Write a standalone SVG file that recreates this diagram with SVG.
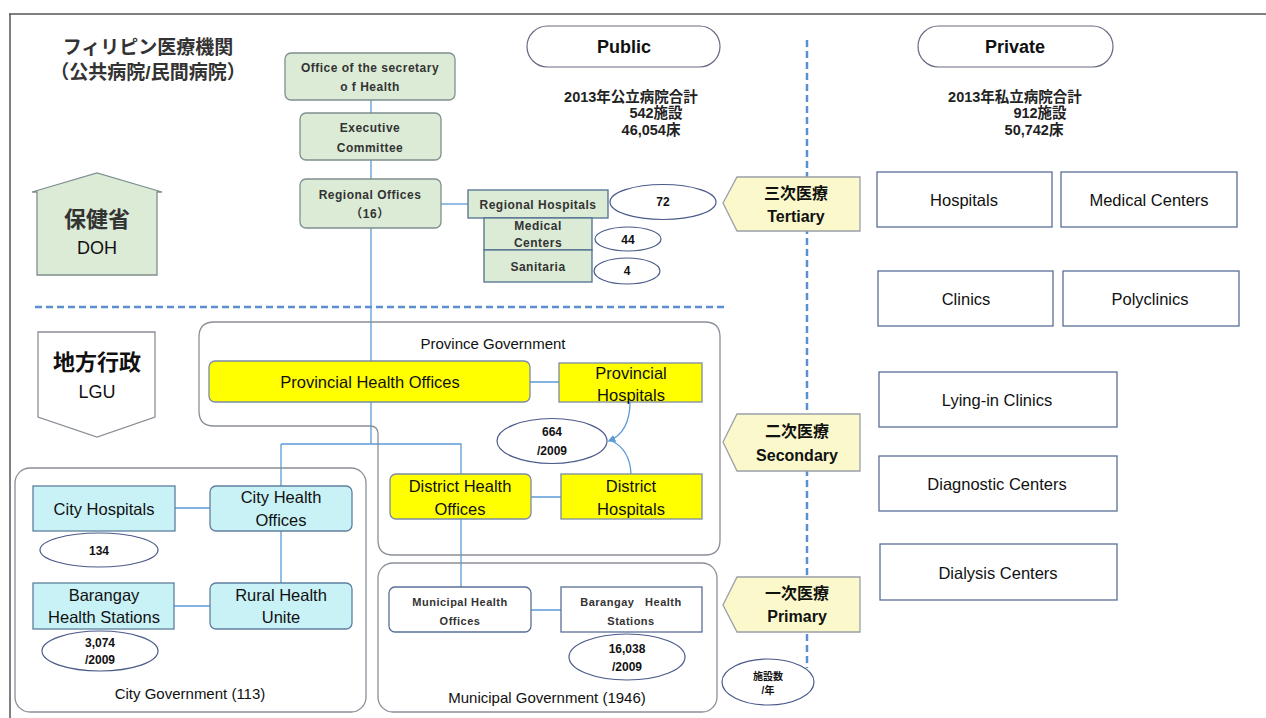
<svg xmlns="http://www.w3.org/2000/svg" width="1266" height="718" viewBox="0 0 1266 718">
<defs>
<style>
text{font-family:"Liberation Sans","Noto Sans CJK JP",sans-serif;fill:#111;text-anchor:middle;dominant-baseline:central}
.g{fill:#dcebd6;stroke:#7f8f8f;stroke-width:1.3}
.gs{fill:#dcebd6;stroke:#4f6f8f;stroke-width:1.3}
.c{fill:#c9f2f7;stroke:#5f7f9f;stroke-width:1.3}
.y{fill:#ffff00;stroke:#7a8aa8;stroke-width:1.3}
.w{fill:#fff;stroke:#5a6f98;stroke-width:1.3}
.e{fill:#fff;stroke:#4a5a8a;stroke-width:1.2}
.cont{fill:none;stroke:#8a8f98;stroke-width:1.3}
.tag{fill:#fbf9cb;stroke:#9aa0a8;stroke-width:1.3}
.ln{fill:none;stroke:#5b9bd5;stroke-width:1.3}
.dash{fill:none;stroke:#5b8fd0;stroke-width:2.5;stroke-dasharray:7,4}
.s{font-size:12px;font-weight:bold;fill:#333;letter-spacing:0.5px}
.m{font-size:16.5px}
.n{font-size:12px;font-weight:bold}
.t{font-size:16px;font-weight:bold}
.st{font-size:14.5px;font-weight:bold;fill:#222}
</style>
<marker id="ah" viewBox="0 0 10 10" refX="8" refY="5" markerWidth="6" markerHeight="6" orient="auto"><path d="M0,0 L10,5 L0,10 z" fill="#5b9bd5"/></marker>
</defs>
<rect x="0" y="0" width="1266" height="718" fill="#fff"/>
<path d="M9,14 H1266 M10,14 V718" fill="none" stroke="#555" stroke-width="1.5"/>

<g id="title">
<text x="148" y="47" style="font-size:19px;font-weight:bold;fill:#333">フィリピン医療機関</text>
<text x="148" y="72" style="font-size:19px;font-weight:bold;fill:#333">（公共病院/民間病院）</text>
</g>

<g id="dividers">
<path class="dash" d="M807,40 V668"/>
<path class="dash" d="M35,307 H725"/>
</g>

<g id="connectors">
<path class="ln" d="M371,100 V113 M371,160 V179 M371,228 V361 M371,402 V444 M281,444 H461 V474 M281,444 V486 M461,519 V587"/>
<path class="ln" d="M441,204 H468"/>
<path class="ln" d="M530,382 H559 M531,497 H561 M531,610 H561"/>
<path class="ln" d="M175,508 H210 M174,606 H210 M281,531 V583"/>
<path class="ln" d="M630,402 Q630,432 609,441" marker-end="url(#ah)"/>
<path class="ln" d="M631,474 Q630,450 612,441"/>
</g>

<g id="doh">
<polygon class="g" points="37,275 37,192 32,192 97,173 162,192 157,192 157,275"/>
<text x="97" y="219" style="font-size:22px;font-weight:bold;fill:#333">保健省</text>
<text x="97" y="248" style="font-size:18px">DOH</text>
</g>

<g id="lgu">
<polygon points="38,332 155,332 155,417 97,437 38,417" fill="#fff" stroke="#8a8f98" stroke-width="1.3"/>
<text x="97" y="362" style="font-size:22px;font-weight:bold">地方行政</text>
<text x="97" y="392" style="font-size:18px">LGU</text>
</g>

<g id="secretary">
<rect class="g" x="285" y="53" width="170" height="47" rx="6"/>
<text class="s" x="370" y="68">Office of the secretary</text>
<text class="s" x="370" y="87">o f Health</text>
</g>
<g id="executive">
<rect class="g" x="300" y="113" width="141" height="47" rx="6"/>
<text class="s" x="370" y="128">Executive</text>
<text class="s" x="370" y="148">Committee</text>
</g>
<g id="regional-offices">
<rect class="g" x="300" y="179" width="141" height="49" rx="6"/>
<text class="s" x="370" y="195">Regional Offices</text>
<text class="s" x="370" y="214">（16）</text>
</g>

<g id="regional-hospitals">
<rect class="gs" x="468" y="190" width="140" height="28"/>
<text class="s" x="538" y="205">Regional Hospitals</text>
</g>
<g id="medical-centers-pub">
<rect class="gs" x="484" y="218" width="108" height="32"/>
<text class="s" x="538" y="226">Medical</text>
<text class="s" x="538" y="243">Centers</text>
</g>
<g id="sanitaria">
<rect class="gs" x="484" y="250" width="108" height="32"/>
<text class="s" x="538" y="267">Sanitaria</text>
</g>
<g id="n72"><ellipse class="e" cx="663" cy="202" rx="53" ry="17.5"/><text class="n" x="663" y="202">72</text></g>
<g id="n44"><ellipse class="e" cx="628" cy="239" rx="33" ry="12"/><text class="n" x="628" y="240">44</text></g>
<g id="n4"><ellipse class="e" cx="627" cy="271" rx="33" ry="13"/><text class="n" x="627" y="271">4</text></g>

<g id="public">
<rect x="527" y="26" width="193" height="41" rx="20.5" fill="#fff" stroke="#666a80" stroke-width="1.2"/>
<text x="624" y="47" style="font-size:18px;font-weight:bold">Public</text>
<text class="st" x="631" y="97">2013年公立病院合計</text>
<text class="st" x="656" y="113">542施設</text>
<text class="st" x="651" y="130">46,054床</text>
</g>
<g id="private">
<rect x="918" y="26" width="195" height="41" rx="20.5" fill="#fff" stroke="#666a80" stroke-width="1.2"/>
<text x="1015" y="47" style="font-size:18px;font-weight:bold">Private</text>
<text class="st" x="1015" y="97">2013年私立病院合計</text>
<text class="st" x="1040" y="113">912施設</text>
<text class="st" x="1034" y="130">50,742床</text>
</g>

<g id="tertiary">
<polygon class="tag" points="723,203 737,177 860,177 860,231 737,231"/>
<text class="t" x="796" y="193">三次医療</text>
<text class="t" x="796" y="216">Tertiary</text>
</g>
<g id="secondary">
<polygon class="tag" points="723,442 737,414 860,414 860,471 737,471"/>
<text class="t" x="797" y="431">二次医療</text>
<text class="t" x="797" y="455">Secondary</text>
</g>
<g id="primary">
<polygon class="tag" points="723,605 737,577 860,577 860,632 737,632"/>
<text class="t" x="797" y="593">一次医療</text>
<text class="t" x="797" y="616">Primary</text>
</g>

<g id="priv-hospitals"><rect class="w" x="877" y="172" width="175" height="55"/><text class="m" x="964" y="200">Hospitals</text></g>
<g id="priv-medical"><rect class="w" x="1061" y="172" width="176" height="55"/><text class="m" x="1149" y="200">Medical Centers</text></g>
<g id="priv-clinics"><rect class="w" x="878" y="271" width="175" height="55"/><text class="m" x="966" y="299">Clinics</text></g>
<g id="priv-polyclinics"><rect class="w" x="1063" y="271" width="176" height="55"/><text class="m" x="1150" y="299">Polyclinics</text></g>
<g id="lying-in"><rect class="w" x="879" y="372" width="238" height="55"/><text class="m" x="997" y="400">Lying-in Clinics</text></g>
<g id="diagnostic"><rect class="w" x="879" y="456" width="238" height="55"/><text class="m" x="997" y="484">Diagnostic Centers</text></g>
<g id="dialysis"><rect class="w" x="880" y="544" width="237" height="56"/><text class="m" x="998" y="573">Dialysis Centers</text></g>

<g id="province-gov">
<path class="cont" d="M214,322 H705 Q720,322 720,337 V540 Q720,555 705,555 H393 Q378,555 378,540 V434 Q378,426 370,426 H214 Q199,426 199,411 V337 Q199,322 214,322 Z"/>
<text x="493" y="343" style="font-size:15px">Province Government</text>
</g>
<g id="prov-health-offices">
<rect class="y" x="209" y="361" width="321" height="41" rx="6"/>
<text class="m" x="370" y="382">Provincial Health Offices</text>
</g>
<g id="prov-hospitals">
<rect class="y" x="559" y="363" width="143" height="39"/>
<text class="m" x="631" y="373">Provincial</text>
<text class="m" x="631" y="395">Hospitals</text>
</g>
<g id="n664"><ellipse class="e" cx="552" cy="441" rx="55" ry="22.5"/><text class="n" x="552" y="432">664</text><text class="n" x="552" y="451">/2009</text></g>
<g id="district-health">
<rect class="y" x="390" y="474" width="141" height="45" rx="6"/>
<text class="m" x="460" y="486">District Health</text>
<text class="m" x="460" y="509">Offices</text>
</g>
<g id="district-hospitals">
<rect class="y" x="561" y="474" width="141" height="45"/>
<text class="m" x="631" y="486">District</text>
<text class="m" x="631" y="509">Hospitals</text>
</g>

<g id="municipal-gov">
<rect class="cont" x="378" y="563" width="339" height="149" rx="15"/>
<text x="547" y="697" style="font-size:15px">Municipal Government (1946)</text>
</g>
<g id="municipal-health">
<rect class="w" x="389" y="587" width="142" height="45" rx="6"/>
<text class="s" x="460" y="602" style="font-size:11px">Municipal Health</text>
<text class="s" x="460" y="621" style="font-size:11px">Offices</text>
</g>
<g id="barangay-mun">
<rect class="w" x="561" y="587" width="141" height="45"/>
<text class="s" x="631" y="602" style="font-size:11px;white-space:pre" xml:space="preserve">Barangay   Health</text>
<text class="s" x="631" y="621" style="font-size:11px">Stations</text>
</g>
<g id="n16038"><ellipse class="e" cx="627" cy="657" rx="58" ry="23"/><text class="n" x="627" y="649">16,038</text><text class="n" x="627" y="667">/2009</text></g>

<g id="city-gov">
<rect class="cont" x="15" y="468" width="351" height="244" rx="15"/>
<text x="190" y="693" style="font-size:15px">City Government (113)</text>
</g>
<g id="city-hospitals"><rect class="c" x="33" y="486" width="142" height="45"/><text class="m" x="104" y="509">City Hospitals</text></g>
<g id="city-health"><rect class="c" x="210" y="486" width="142" height="45" rx="6"/><text class="m" x="281" y="497">City Health</text><text class="m" x="281" y="520">Offices</text></g>
<g id="n134"><ellipse class="e" cx="99" cy="550" rx="59" ry="17"/><text class="n" x="99" y="551">134</text></g>
<g id="barangay-city"><rect class="c" x="33" y="583" width="141" height="46"/><text class="m" x="104" y="595">Barangay</text><text class="m" x="104" y="617">Health Stations</text></g>
<g id="rural"><rect class="c" x="210" y="583" width="142" height="46" rx="6"/><text class="m" x="281" y="595">Rural Health</text><text class="m" x="281" y="617">Unite</text></g>
<g id="n3074"><ellipse class="e" cx="100" cy="651" rx="58" ry="20"/><text class="n" x="100" y="643">3,074</text><text class="n" x="100" y="660">/2009</text></g>

<g id="legend"><ellipse class="e" cx="768" cy="682" rx="46" ry="23"/><text x="768" y="676" style="font-size:10px;font-weight:bold">施設数</text><text x="768" y="690" style="font-size:10px;font-weight:bold">/年</text></g>
</svg>
